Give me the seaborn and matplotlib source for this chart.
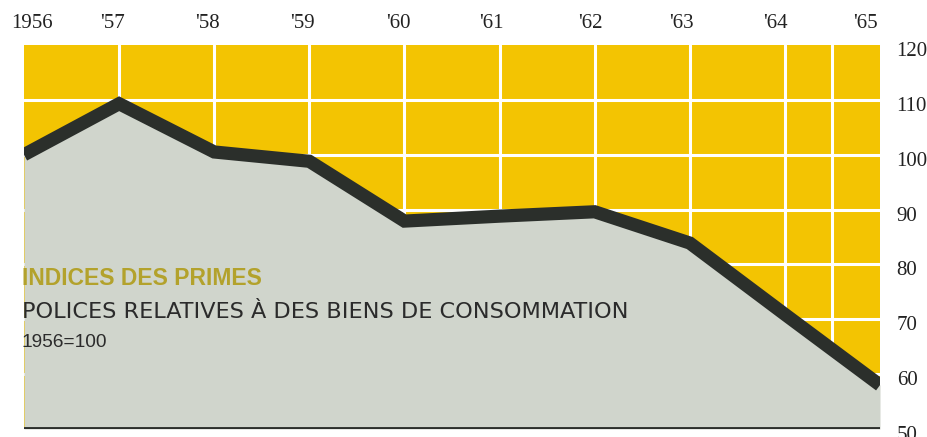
import matplotlib
matplotlib.use("Agg")
import matplotlib.pyplot as plt
import matplotlib.transforms as mtransforms
import seaborn as sns
import pandas as pd

years = [1956, 1957, 1958, 1959, 1960, 1961, 1962, 1963, 1964, 1965]
index_values = [100.0, 109.3, 100.5, 98.8, 87.9, 88.8, 89.6, 83.9, 70.9, 58.0]
x_tick_labels = ["1956", "'57", "'58", "'59", "'60", "'61", "'62", "'63", "'64", "'65"]
y_ticks = [50, 60, 70, 80, 90, 100, 110, 120]

title = "INDICES DES PRIMES"
subtitle = "POLICES RELATIVES À DES BIENS DE CONSOMMATION"
base_note = "1956=100"

YELLOW = "#f3c402"
FILL = "#d0d5cc"
LINE = "#2b2f2b"
OLIVE = "#b3a22c"

df = pd.DataFrame({"year": years, "index": index_values})

sns.set_theme(style="white")
plt.rcParams["font.family"] = ["Liberation Sans", "DejaVu Sans"]

W, H = 928, 437
fig = plt.figure(figsize=(W / 100, H / 100), dpi=100)
left, right, top, bottom = 24, 880, 45, 429
ax = fig.add_axes([left / W, (H - bottom) / H, (right - left) / W, (bottom - top) / H])
ax.set_facecolor(YELLOW)

ax.set_xlim(1956, 1965)
ax.set_ylim(50, 120)

# grid lines
for yv in [60, 70, 80, 90, 100, 110]:
    ax.axhline(yv, color="white", lw=2.2, zorder=1)
for xv in years[1:-1] + [1964.5]:
    ax.axvline(xv, color="white", lw=2.2, zorder=1)

ax.fill_between(df["year"], 50, df["index"], color=FILL, zorder=2, lw=0)
sns.lineplot(data=df, x="year", y="index", ax=ax, color=LINE, lw=9.5,
             zorder=3, solid_joinstyle="miter", solid_capstyle="butt")
ax.axhline(50, color=LINE, lw=3.5, zorder=4)

for s in ax.spines.values():
    s.set_visible(False)

ax.xaxis.tick_top()
ax.set_xticks(years)
ax.set_xticklabels(x_tick_labels)
ax.yaxis.tick_right()
ax.set_yticks(y_ticks)
ax.set_yticklabels([str(v) for v in y_ticks])
ax.tick_params(axis="both", length=0, labelsize=15, colors="#222222")
ax.tick_params(axis="x", pad=9)
ax.tick_params(axis="y", pad=12)
for lab in ax.get_xticklabels() + ax.get_yticklabels():
    lab.set_fontfamily(["Liberation Serif", "DejaVu Serif"])
ax.set_xlabel("")
ax.set_ylabel("")

# shift tick labels slightly (as in the printed original)
x_shift = [8, -7, -7, -7, -6, -8, -4, -8, -9, -15]
for lab, dx in zip(ax.get_xticklabels(), x_shift):
    lab.set_transform(lab.get_transform() + mtransforms.ScaledTranslation(dx / 100, 0, fig.dpi_scale_trans))
for lab in ax.get_yticklabels():
    lab.set_transform(lab.get_transform() + mtransforms.ScaledTranslation(0, -4 / 100, fig.dpi_scale_trans))

fig.text(22 / W, (H - 285) / H, title, color=OLIVE, fontsize=16.5, va="baseline", ha="left",
         fontweight="semibold")
fig.text(22 / W, (H - 318) / H, subtitle, color="#2b2b2b", fontsize=16.1, va="baseline", ha="left",
         family=["DejaVu Sans"])
fig.text(22 / W, (H - 347) / H, base_note, color="#2b2b2b", fontsize=13.8, va="baseline", ha="left",
         family=["Liberation Sans"])

fig.savefig("out.png", dpi=100)
